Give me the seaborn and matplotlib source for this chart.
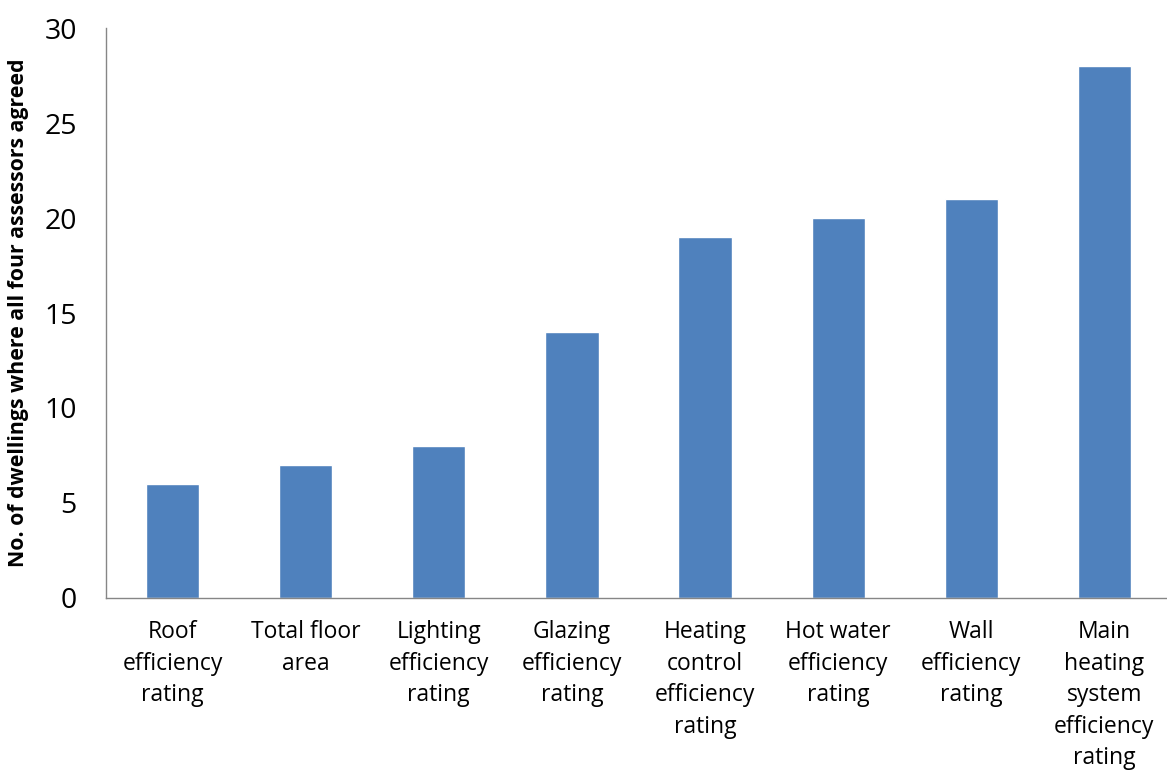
import matplotlib
matplotlib.use("Agg")
import matplotlib.pyplot as plt
import seaborn as sns
import pandas as pd

categories = [
    "Roof\nefficiency\nrating",
    "Total floor\narea",
    "Lighting\nefficiency\nrating",
    "Glazing\nefficiency\nrating",
    "Heating\ncontrol\nefficiency\nrating",
    "Hot water\nefficiency\nrating",
    "Wall\nefficiency\nrating",
    "Main\nheating\nsystem\nefficiency\nrating",
]
counts = [6, 7, 8, 14, 19, 20, 21, 28]
y_ticks = [0, 5, 10, 15, 20, 25, 30]

sns.set_style("white")
plt.rcParams["font.family"] = ["Open Sans", "DejaVu Sans"]
plt.rcParams["text.color"] = "black"
plt.rcParams["xtick.color"] = "black"
plt.rcParams["ytick.color"] = "black"
plt.rcParams["axes.labelcolor"] = "black"

df = pd.DataFrame({"category": categories, "count": counts})

fig = plt.figure(figsize=(11.67, 7.7), dpi=100)
ax = fig.add_axes([0.0908, 0.2234, 0.9126, 0.7402])

sns.barplot(data=df, x="category", y="count", color="#4F81BD",
            saturation=1, width=0.4, ax=ax)

ax.set_xlim(-0.5, len(categories) - 0.5)
ax.set_ylim(0, 30)
ax.set_yticks(y_ticks)
ax.set_yticklabels([str(v) for v in y_ticks], fontsize=20.5)

ax.set_xticks(range(len(categories)))
ax.set_xticklabels(categories, fontsize=16.5, linespacing=1.42, va="top")
ax.tick_params(axis="x", length=0, pad=16)
ax.set_xticks([i - 0.5 for i in range(len(categories))], minor=True)
ax.tick_params(axis="x", which="minor", length=8, width=1, color="#868686", direction="out")
ax.tick_params(axis="y", length=9, width=1, color="#868686", labelcolor="black",
               direction="out", pad=12)

ax.set_xlabel("")
ax.set_ylabel("No. of dwellings where all four assessors agreed",
              fontsize=15.3, fontweight="bold")
ax.yaxis.set_label_coords(-0.072, 0.5)

for side in ["top", "right"]:
    ax.spines[side].set_visible(False)
for side in ["left", "bottom"]:
    ax.spines[side].set_color("#868686")
    ax.spines[side].set_linewidth(1)

fig.savefig("out.png", dpi=100)
